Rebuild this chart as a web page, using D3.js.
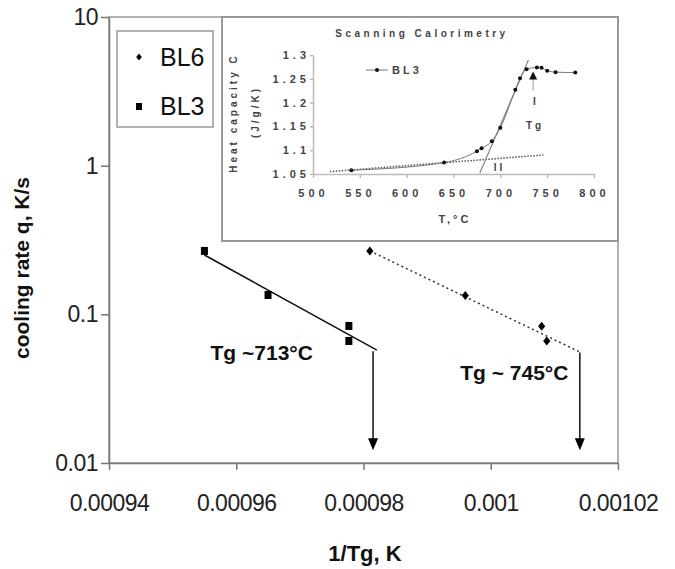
<!DOCTYPE html>
<meta charset="utf-8">

<style type="text/css">
	body { margin: 0; background: #fff; }
	svg { display: block; font-family: "Liberation Sans", Arial, sans-serif; }
	.main-axis text { font-size: 23px; fill: #222; }
	.main-axis path, .main-axis line { stroke: #777; stroke-width: 1.5; }
	.cal text { font-size: 10px; font-weight: bold; letter-spacing: 3px; fill: #444; }
	.cal-axis path, .cal-axis line { stroke: #bbb; stroke-width: 1.5; }
	.cal-axis text { font-size: 11px; letter-spacing: 4px; }
	.ttl { font-weight: bold; fill: #111; }
</style>

<body>
</body>

<script src="https://d3js.org/d3.v7.min.js"></script>

<script>

	// main chart: cooling rate vs 1/Tg
	var xTicks = [0.00094, 0.00096, 0.00098, 0.001, 0.00102];
	var xTickLabels = ["0.00094", "0.00096", "0.00098", "0.001", "0.00102"];
	var yTicks = [0.01, 0.1, 1, 10];
	var yTickLabels = ["0.01", "0.1", "1", "10"];

	var bl3X = [0.000955, 0.000965, 0.0009777, 0.0009777];
	var bl3Q = [0.267, 0.135, 0.0835, 0.0662];
	var bl6X = [0.000981, 0.000996, 0.001008, 0.0010088];
	var bl6Q = [0.267, 0.134, 0.083, 0.0662];

	// fitted lines (end points)
	var bl3FitX = [0.000955, 0.0009821];
	var bl3FitQ = [0.2506, 0.0575];
	var bl6FitX = [0.000981, 0.001014];
	var bl6FitQ = [0.267, 0.0558];

	// arrows down to the axis
	var arrowX = [0.0009815, 0.001014];
	var arrowTopQ = [0.0565, 0.0553];
	var arrowTipQ = [0.0122, 0.0122];

	var noteText = ["Tg ~713°C", "Tg ~ 745°C"];
	var noteX = [0.000964, 0.0010037];
	var noteQ = [0.055, 0.0403];

	// inset: scanning calorimetry of BL3
	var calXTicks = [500, 550, 600, 650, 700, 750, 800];
	var calYTicks = [1.05, 1.1, 1.15, 1.2, 1.25, 1.3];
	var calYTickLabels = ["1.05", "1.1", "1.15", "1.2", "1.25", "1.3"];
	var calT = [541, 640, 675, 680, 691, 700, 716, 721, 728, 739, 744, 750, 759, 780];
	var calCp = [1.058, 1.074, 1.098, 1.104, 1.119, 1.147, 1.227, 1.251, 1.27, 1.274, 1.273, 1.267, 1.264, 1.263];
	var baseT = [518, 746];
	var baseCp = [1.055, 1.090];
	var steepT = [678, 730];
	var steepCp = [1.0515, 1.2895];

	var width = 675, height = 569;

	var svg = d3.select("body").append("svg")
		.attr("width", width)
		.attr("height", height);

	var x = d3.scaleLinear().domain([0.00094, 0.00102]).range([109, 618]);
	var y = d3.scaleLog().domain([0.01, 10]).range([463, 17]);

	// plot frame
	svg.append("rect")
		.attr("x", x(0.00094)).attr("y", y(10))
		.attr("width", x(0.00102) - x(0.00094))
		.attr("height", y(0.01) - y(10))
		.attr("fill", "none").attr("stroke", "#999").attr("stroke-width", 1.5);

	svg.append("g")
		.attr("class", "main-axis")
		.attr("transform", "translate(0," + y(0.01) + ")")
		.call(d3.axisBottom(x)
			.tickValues(xTicks)
			.tickSize(7).tickSizeOuter(0).tickPadding(25)
			.tickFormat(function(d, i) { return xTickLabels[i]; }));

	svg.append("g")
		.attr("class", "main-axis")
		.attr("transform", "translate(" + x(0.00094) + ",0)")
		.call(d3.axisLeft(y)
			.tickValues(yTicks)
			.tickSize(8).tickSizeOuter(0).tickPadding(3)
			.tickFormat(function(d, i) { return yTickLabels[i]; }));

	svg.selectAll(".main-axis text").style("letter-spacing", "-0.5px");

	svg.append("text")
		.attr("class", "ttl")
		.attr("x", 365).attr("y", 561)
		.attr("text-anchor", "middle")
		.style("font-size", "22px")
		.text("1/Tg, K");

	svg.append("text")
		.attr("class", "ttl")
		.attr("transform", "translate(22,268) rotate(-90)")
		.attr("text-anchor", "middle")
		.attr("dy", "0.35em")
		.style("font-size", "21px")
		.text("cooling rate q, K/s");

	// fitted lines
	var line = d3.line()
		.x(function(d) { return x(d[0]); })
		.y(function(d) { return y(d[1]); });

	svg.append("path")
		.attr("d", line(d3.zip(bl3FitX, bl3FitQ)))
		.attr("fill", "none").attr("stroke", "#111").attr("stroke-width", 1.5);

	svg.append("path")
		.attr("d", line(d3.zip(bl6FitX, bl6FitQ)))
		.attr("fill", "none").attr("stroke", "#333").attr("stroke-width", 1.5)
		.attr("stroke-dasharray", "2,3");

	function diamond(s) {
		return "M0," + (-s) + "L" + (s * 0.8) + ",0L0," + s + "L" + (-s * 0.8) + ",0Z";
	}

	svg.selectAll(".bl3")
		.data(d3.zip(bl3X, bl3Q))
		.enter().append("rect")
		.attr("class", "bl3")
		.attr("x", function(d) { return x(d[0]) - 3.5; })
		.attr("y", function(d) { return y(d[1]) - 4; })
		.attr("width", 7).attr("height", 8)
		.attr("fill", "#000");

	svg.selectAll(".bl6")
		.data(d3.zip(bl6X, bl6Q))
		.enter().append("path")
		.attr("class", "bl6")
		.attr("transform", function(d) { return "translate(" + x(d[0]) + "," + y(d[1]) + ")"; })
		.attr("d", diamond(4.5))
		.attr("fill", "#000");

	// arrows
	arrowX.forEach(function(v, i) {
		var ax = x(v), top = y(arrowTopQ[i]), tip = y(arrowTipQ[i]);
		svg.append("line")
			.attr("x1", ax).attr("x2", ax)
			.attr("y1", top).attr("y2", tip - 10)
			.attr("stroke", "#111").attr("stroke-width", 1.5);
		svg.append("path")
			.attr("d", "M" + (ax - 5) + "," + (tip - 12) + "L" + (ax + 5) + "," + (tip - 12) + "L" + ax + "," + tip + "Z")
			.attr("fill", "#000");
	});

	svg.selectAll(".note")
		.data(noteText)
		.enter().append("text")
		.attr("class", "ttl")
		.attr("x", function(d, i) { return x(noteX[i]); })
		.attr("y", function(d, i) { return y(noteQ[i]); })
		.attr("dy", "0.35em")
		.attr("text-anchor", "middle")
		.style("font-size", "21px")
		.text(function(d) { return d; });

	// legend
	var leg = svg.append("g");
	leg.append("rect")
		.attr("x", 117).attr("y", 31).attr("width", 96).attr("height", 96)
		.attr("fill", "#fff").attr("stroke", "#999").attr("stroke-width", 1.5);
	leg.append("path")
		.attr("transform", "translate(139,57)")
		.attr("d", diamond(3.5)).attr("fill", "#000");
	leg.append("rect")
		.attr("x", 136).attr("y", 103).attr("width", 6).attr("height", 7)
		.attr("fill", "#000");
	leg.selectAll("text")
		.data(["BL6", "BL3"])
		.enter().append("text")
		.attr("x", 160)
		.attr("y", function(d, i) { return i ? 115 : 66; })
		.style("font-size", "25px")
		.attr("fill", "#111")
		.text(function(d) { return d; });

	// inset chart
	var cal = svg.append("g").attr("class", "cal");

	cal.append("rect")
		.attr("x", 222).attr("y", 17).attr("width", 396).attr("height", 224)
		.attr("fill", "#fff").attr("stroke", "#999").attr("stroke-width", 2);

	var cx = d3.scaleLinear().domain([500, 800]).range([313, 594]);
	var cy = d3.scaleLinear().domain([1.05, 1.3]).range([174, 55]);

	cal.append("g")
		.attr("class", "cal-axis")
		.attr("transform", "translate(0," + cy(1.05) + ")")
		.call(d3.axisBottom(cx)
			.tickValues(calXTicks)
			.tickSize(4).tickSizeOuter(0).tickPadding(11)
			.tickFormat(d3.format("d")));

	cal.append("g")
		.attr("class", "cal-axis")
		.attr("transform", "translate(" + cx(500) + ",0)")
		.call(d3.axisLeft(cy)
			.tickValues(calYTicks)
			.tickSize(3).tickSizeOuter(0).tickPadding(0)
			.tickFormat(function(d, i) { return calYTickLabels[i]; }));

	cal.selectAll(".cal-axis text").style("font-family", "inherit").attr("fill", "#444");

	cal.append("text")
		.attr("x", 422).attr("y", 37)
		.attr("text-anchor", "middle")
		.attr("fill", "#333")
		.style("letter-spacing", "3.5px")
		.text("Scanning Calorimetry");

	cal.append("text")
		.attr("x", 455).attr("y", 223)
		.attr("text-anchor", "middle")
		.style("font-size", "11px")
		.text("T,°C");

	cal.append("text")
		.attr("transform", "translate(233,113) rotate(-90)")
		.attr("dy", "0.35em")
		.attr("text-anchor", "middle")
		.text("Heat capacity C");

	cal.append("text")
		.attr("transform", "translate(255,112) rotate(-90)")
		.attr("dy", "0.35em")
		.attr("text-anchor", "middle")
		.text("(J/g/K)");

	var calLine = d3.line()
		.x(function(d) { return cx(d[0]); })
		.y(function(d) { return cy(d[1]); });

	cal.append("path")
		.attr("d", calLine(d3.zip(baseT, baseCp)))
		.attr("fill", "none").attr("stroke", "#555").attr("stroke-width", 1.5)
		.attr("stroke-dasharray", "1.5,1.5");

	cal.append("path")
		.attr("d", calLine(d3.zip(steepT, steepCp)))
		.attr("fill", "none").attr("stroke", "#888").attr("stroke-width", 1.2);

	cal.append("path")
		.attr("d", calLine.curve(d3.curveMonotoneX)(d3.zip(calT, calCp)))
		.attr("fill", "none").attr("stroke", "#777").attr("stroke-width", 1);

	cal.selectAll(".pt")
		.data(d3.zip(calT, calCp))
		.enter().append("circle")
		.attr("class", "pt")
		.attr("cx", function(d) { return cx(d[0]); })
		.attr("cy", function(d) { return cy(d[1]); })
		.attr("r", 2)
		.attr("fill", "#111");

	// inset legend
	cal.append("line")
		.attr("x1", 366).attr("x2", 388).attr("y1", 70).attr("y2", 70)
		.attr("stroke", "#777");
	cal.append("circle").attr("cx", 377).attr("cy", 70).attr("r", 2).attr("fill", "#111");
	cal.append("text").attr("x", 392).attr("y", 74).attr("fill", "#333")
		.style("font-size", "11px").text("BL3");

	// Tg marker in inset
	cal.append("line")
		.attr("x1", cx(735)).attr("x2", cx(735))
		.attr("y1", cy(1.255)).attr("y2", cy(1.226))
		.attr("stroke", "#999");
	cal.append("path")
		.attr("d", "M" + (cx(735) - 4) + "," + (cy(1.255) + 3) + "L" + (cx(735) + 4) + "," + (cy(1.255) + 3) + "L" + cx(735) + "," + (cy(1.255) - 5) + "Z")
		.attr("fill", "#111");
	cal.append("text").attr("x", cx(735)).attr("y", cy(1.202)).attr("dy", "0.35em").text("I");
	cal.append("text").attr("x", cx(737)).attr("y", cy(1.151)).attr("dy", "0.35em").attr("text-anchor", "middle").text("Tg");
	cal.append("text").attr("x", cx(693)).attr("y", cy(1.063)).attr("dy", "0.35em").text("II");

</script>
